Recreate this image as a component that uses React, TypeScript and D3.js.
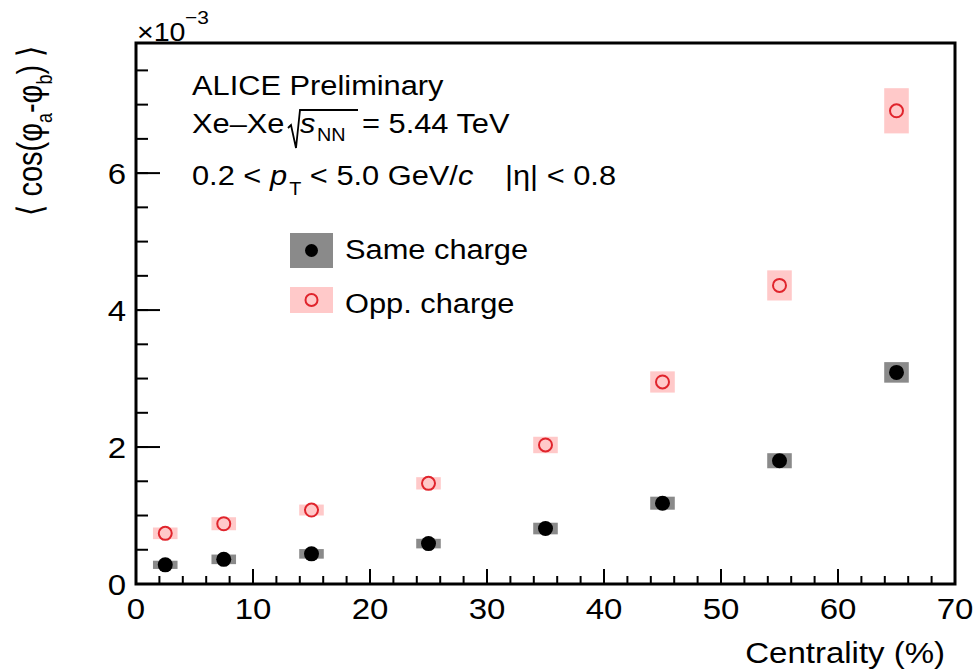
import React from 'react';
import * as d3 from 'd3';

// centrality bin centres (%)
const centrality = [2.5, 7.5, 15, 25, 35, 45, 55, 65];
// <cos(phi_a - phi_b)> x 10^-3
const sameCharge = [0.28, 0.36, 0.44, 0.59, 0.81, 1.18, 1.80, 3.09];
const sameSys = [0.06, 0.07, 0.07, 0.07, 0.085, 0.095, 0.11, 0.15];
const oppCharge = [0.74, 0.88, 1.08, 1.47, 2.03, 2.95, 4.36, 6.91];
const oppSys = [0.085, 0.095, 0.08, 0.09, 0.12, 0.155, 0.22, 0.33];
const sysHalfWidth = 1.05;

const xMajor = [0, 10, 20, 30, 40, 50, 60, 70];
const yMajor = [0, 2, 4, 6];

const W = 975;
const H = 670;
const left = 136, right = 955, top = 43, bottom = 584;
const FONT = '"Liberation Sans", Arial, Helvetica, sans-serif';
const SX = 1.1; // reference text is a bit wide

const x = d3.scaleLinear().domain([0, 70]).range([left, right]);
const y = d3.scaleLinear().domain([0, 7.9]).range([bottom, top]);

const GRAY = '#8a8a8a';
const PINK = '#ffc9c9';
const RED = '#e0242c';

// text with the horizontal stretch applied around its anchor
const T = ({ x, y, size = 28, anchor = 'start', italic = false, children }: any) => (
  <g transform={`translate(${x},${y})`}>
    <text
      transform={`scale(${SX},1)`}
      fontSize={size}
      textAnchor={anchor}
      fontStyle={italic ? 'italic' : 'normal'}
      fill="#000"
    >
      {children}
    </text>
  </g>
);

const App = () => {
  const xMinor = d3.range(0, 70.01, 2);
  const yMinor = d3.range(0, 7.9, 0.5);

  return (
    <svg
      width={W}
      height={H}
      style={{ position: 'absolute', left: 0, top: 0, background: '#fff' }}
      fontFamily={FONT}
    >
      {/* systematic boxes */}
      {centrality.map((c, i) => (
        <rect
          key={'os' + i}
          x={x(c - sysHalfWidth)}
          width={x(c + sysHalfWidth) - x(c - sysHalfWidth)}
          y={y(oppCharge[i] + oppSys[i])}
          height={y(oppCharge[i] - oppSys[i]) - y(oppCharge[i] + oppSys[i])}
          fill={PINK}
        />
      ))}
      {centrality.map((c, i) => (
        <rect
          key={'ss' + i}
          x={x(c - sysHalfWidth)}
          width={x(c + sysHalfWidth) - x(c - sysHalfWidth)}
          y={y(sameCharge[i] + sameSys[i])}
          height={y(sameCharge[i] - sameSys[i]) - y(sameCharge[i] + sameSys[i])}
          fill={GRAY}
        />
      ))}

      {/* markers */}
      {centrality.map((c, i) => (
        <circle key={'o' + i} cx={x(c)} cy={y(oppCharge[i])} r={6.5} fill="none" stroke={RED} strokeWidth={2} />
      ))}
      {centrality.map((c, i) => (
        <circle key={'s' + i} cx={x(c)} cy={y(sameCharge[i])} r={7.5} fill="#000" />
      ))}

      {/* frame */}
      <rect x={left} y={top} width={right - left} height={bottom - top} fill="none" stroke="#000" strokeWidth={3} />

      {/* x ticks */}
      {xMinor.map((v) => (
        <line key={'xm' + v} x1={x(v)} x2={x(v)} y1={bottom} y2={bottom - 8} stroke="#000" strokeWidth={2} />
      ))}
      {xMajor.map((v) => (
        <g key={'xM' + v}>
          <line x1={x(v)} x2={x(v)} y1={bottom} y2={bottom - 15} stroke="#000" strokeWidth={2} />
          <T x={x(v)} y={619} size={30} anchor="middle">{v}</T>
        </g>
      ))}

      {/* y ticks */}
      {yMinor.map((v) => (
        <line key={'ym' + v} x1={left} x2={left + 12} y1={y(v)} y2={y(v)} stroke="#000" strokeWidth={2} />
      ))}
      {yMajor.map((v) => (
        <g key={'yM' + v}>
          <line x1={left} x2={left + 24} y1={y(v)} y2={y(v)} stroke="#000" strokeWidth={2} />
          <T x={126} y={y(v) + 11} size={30} anchor="end">{v}</T>
        </g>
      ))}

      {/* exponent */}
      <T x={137} y={41} size={26}>×10</T>
      <T x={185} y={24} size={19}>−3</T>

      {/* axis titles */}
      <T x={945} y={663} size={30} anchor="end">Centrality (%)</T>
      <text transform="translate(42,46) rotate(-90) scale(1,1.2)" fontSize={29} textAnchor="end">
        {'\u27E8 cos(\u03C6'}
        <tspan fontSize={18} dy={8}>a</tspan>
        <tspan dy={-8}>{'-\u03C6'}</tspan>
        <tspan fontSize={18} dy={8}>b</tspan>
        <tspan dy={-8}>{') \u27E9'}</tspan>
      </text>

      {/* annotations */}
      <T x={192} y={95}>ALICE Preliminary</T>
      <T x={192} y={133}>Xe–Xe</T>
      <path d="M288,128 L291,125 L296,148 L300,110 L358,110" fill="none" stroke="#000" strokeWidth={1.8} />
      <T x={300} y={133} italic>s</T>
      <T x={317} y={141} size={18}>NN</T>
      <T x={362} y={133}>= 5.44 TeV</T>
      <g transform="translate(192,185)">
        <text transform={`scale(${SX},1)`} fontSize={28} style={{ whiteSpace: 'pre' }}>
          {'0.2 < '}
          <tspan fontStyle="italic">p</tspan>
          <tspan fontSize={18} dx={2} dy={10}>T</tspan>
          <tspan dy={-10}>{' < 5.0 GeV/'}</tspan>
          <tspan fontStyle="italic">c</tspan>
        </text>
      </g>
      <T x={505} y={185}>|η| &lt; 0.8</T>

      {/* legend */}
      <rect x={290} y={233} width={43} height={35} fill={GRAY} />
      <circle cx={311.5} cy={250.5} r={6.5} fill="#000" />
      <T x={345} y={259}>Same charge</T>
      <rect x={290} y={287} width={43} height={26} fill={PINK} />
      <circle cx={311.5} cy={300} r={6} fill="none" stroke={RED} strokeWidth={2} />
      <T x={345} y={313}>Opp. charge</T>
    </svg>
  );
};

export default App;
